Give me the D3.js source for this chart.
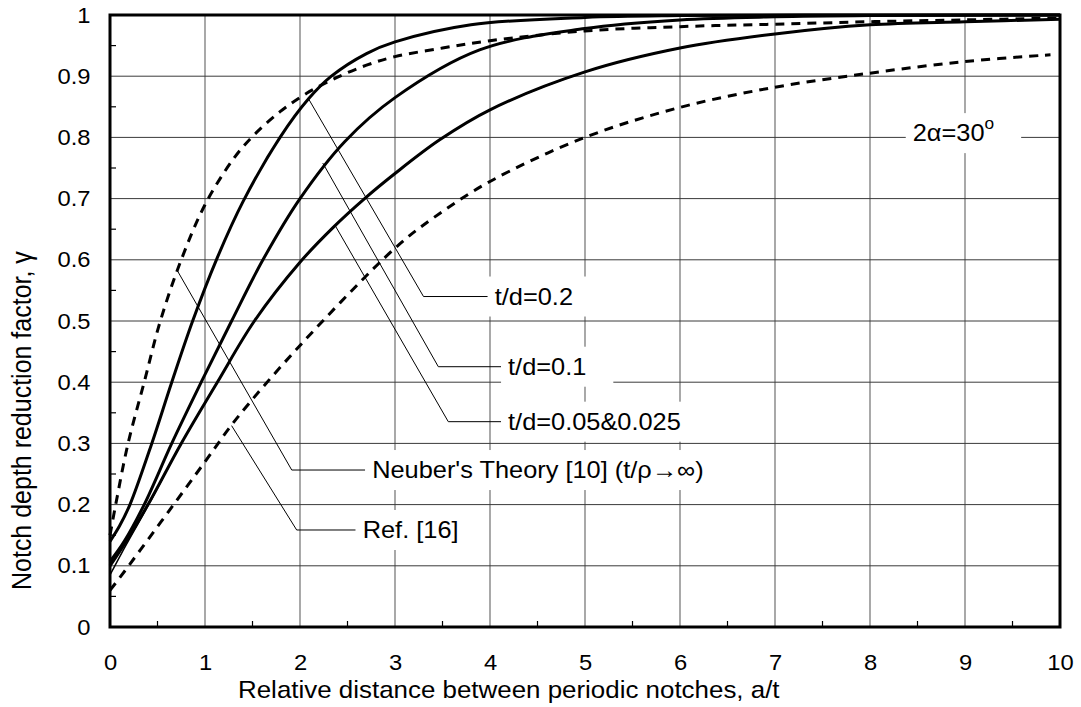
<!DOCTYPE html>
<html>
<head>
<meta charset="utf-8">
<script src="https://cdnjs.cloudflare.com/ajax/libs/d3/7.8.5/d3.min.js"></script>
<style>
  body { margin: 0; background: #ffffff; }
  svg { display: block; font-family: "Liberation Sans", Arial, sans-serif; }
</style>
</head>
<body>
<div id="chart"></div>
<script>
// values (x = a/t, y = gamma)
var td02X = [0, 0.1, 0.21, 0.44, 0.65, 0.87, 1.12, 1.4, 1.79, 2.09, 2.33, 2.7, 3.0, 3.8, 5.0, 6.0, 8.0, 10.0];
var td02Y = [0.14, 0.165, 0.2, 0.3, 0.4, 0.5, 0.6, 0.695, 0.8, 0.863, 0.9, 0.937, 0.956, 0.984, 0.996, 0.999, 1.0, 1.0];

var td01X = [0, 0.15, 0.36, 0.65, 0.96, 1.28, 1.61, 2.0, 2.47, 3.0, 3.89, 5.0, 6.0, 7.0, 8.0, 10.0];
var td01Y = [0.107, 0.14, 0.2, 0.3, 0.4, 0.5, 0.6, 0.7, 0.793, 0.865, 0.943, 0.978, 0.992, 0.997, 0.999, 1.0];

var td005X = [0, 0.15, 0.4, 0.75, 1.13, 1.52, 2.0, 2.35, 2.68, 3.0, 3.47, 4.0, 5.0, 6.0, 7.0, 8.0, 9.0, 10.0];
var td005Y = [0.1, 0.135, 0.2, 0.3, 0.4, 0.5, 0.596, 0.653, 0.7, 0.741, 0.796, 0.845, 0.907, 0.946, 0.969, 0.984, 0.989, 0.993];

var td0025X = [0, 0.12, 0.4, 0.75, 1.13, 1.52, 2.0, 2.35, 2.68, 3.0, 3.47, 4.0, 5.0, 6.0, 7.0, 8.0, 9.0, 10.0];
var td0025Y = [0.085, 0.12, 0.198, 0.3, 0.4, 0.5, 0.596, 0.653, 0.7, 0.741, 0.796, 0.845, 0.907, 0.946, 0.969, 0.984, 0.989, 0.993];

var neuberX = [0, 0.06, 0.19, 0.36, 0.53, 0.75, 1.0, 1.3, 1.51, 1.79, 2.07, 2.39, 2.7, 3.0, 3.5, 4.0, 5.0, 6.0, 7.0, 8.0, 9.0, 10.0];
var neuberY = [0.15, 0.2, 0.3, 0.4, 0.5, 0.6, 0.69, 0.765, 0.803, 0.842, 0.872, 0.898, 0.918, 0.932, 0.946, 0.958, 0.974, 0.981, 0.985, 0.989, 0.992, 0.995];

var ref16X = [0, 0.1, 0.32, 0.67, 1.0, 1.33, 2.0, 3.0, 3.4, 4.0, 5.0, 6.0, 7.0, 8.0, 9.0, 9.9];
var ref16Y = [0.06, 0.08, 0.126, 0.2, 0.27, 0.34, 0.46, 0.619, 0.668, 0.728, 0.8, 0.849, 0.882, 0.905, 0.924, 0.935];

// tick labels
var xTicks = [0, 1, 2, 3, 4, 5, 6, 7, 8, 9, 10];
var xTickLabels = ["0", "1", "2", "3", "4", "5", "6", "7", "8", "9", "10"];
var yTicks = [0, 0.1, 0.2, 0.3, 0.4, 0.5, 0.6, 0.7, 0.8, 0.9, 1];
var yTickLabels = ["0", "0.1", "0.2", "0.3", "0.4", "0.5", "0.6", "0.7", "0.8", "0.9", "1"];

// annotation call-outs: point on the curve, elbow, text start (data units)
var calloutText = ["t/d=0.2", "t/d=0.1", "t/d=0.05&0.025", "Neuber's Theory [10] (t/\u03c1\u2192\u221e)", "Ref. [16]"];
var calloutAnchor = [[2.09, 0.863], [2.24, 0.758], [2.37, 0.656], [0.71, 0.582], [1.28, 0.329]];
var calloutElbow = [[3.30, 0.54], [3.456, 0.4253], [3.561, 0.3355], [1.913, 0.2565], [1.965, 0.1585]];
var calloutTextX = [4.05, 4.19, 4.19, 2.76, 2.66];

// ### set up the drawing area
var W = 1081, H = 707;
var margin = {top: 15, right: 21, bottom: 80, left: 110};
var width = W - margin.left - margin.right;
var height = H - margin.top - margin.bottom;
var stretch = "scale(1.08,1)";

var svg = d3.select("#chart").append("svg")
  .attr("width", W)
  .attr("height", H);

var g = svg.append("g").attr("transform", "translate(" + margin.left + "," + margin.top + ")");

var x = d3.scaleLinear().domain([0, 10]).range([0, width]);
var y = d3.scaleLinear().domain([0, 1]).range([height, 0]);

// ### grid lines
g.append("g").attr("class", "grid_v").selectAll("line")
  .data(xTicks.slice(1, -1)).enter().append("line")
  .attr("x1", function(d){ return x(d); })
  .attr("x2", function(d){ return x(d); })
  .attr("y1", 0).attr("y2", height)
  .attr("stroke", "#7a7a7a").attr("stroke-width", 1.3);

g.append("g").attr("class", "grid_h").selectAll("line")
  .data(yTicks.slice(1, -1)).enter().append("line")
  .attr("x1", 0).attr("x2", width)
  .attr("y1", function(d){ return y(d); })
  .attr("y2", function(d){ return y(d); })
  .attr("stroke", "#3a3a3a").attr("stroke-width", 1);

// ### curves
var line = d3.line()
  .x(function(d){ return x(d[0]); })
  .y(function(d){ return y(d[1]); })
  .curve(d3.curveCatmullRom.alpha(0.5));

function series(xs, ys){ return xs.map(function(v, i){ return [v, ys[i]]; }); }

var curves = [
  {pts: series(ref16X, ref16Y), w: 3, dash: "9,7"},
  {pts: series(neuberX, neuberY), w: 3, dash: "9,7"},
  {pts: series(td0025X, td0025Y), w: 1.5, dash: null},
  {pts: series(td005X, td005Y), w: 3, dash: null},
  {pts: series(td01X, td01Y), w: 3, dash: null},
  {pts: series(td02X, td02Y), w: 3, dash: null}
];

g.append("g").attr("class", "curves").selectAll("path")
  .data(curves).enter().append("path")
  .attr("d", function(d){ return line(d.pts); })
  .attr("fill", "none")
  .attr("stroke", "#000")
  .attr("stroke-width", function(d){ return d.w; })
  .attr("stroke-dasharray", function(d){ return d.dash; });

// ### call-outs with white boxes
var notes = g.append("g").attr("class", "notes");

function addBoxedText(px, py, build){
  var t = notes.append("text")
    .attr("transform", "translate(" + px + "," + py + ") " + stretch)
    .attr("font-size", 23.5)
    .attr("dy", "0.35em");
  build(t);
  var bb = t.node().getBBox();
  notes.insert("rect", function(){ return t.node(); })
    .attr("x", px - 7)
    .attr("y", py - 20)
    .attr("width", bb.width * 1.08 + 34)
    .attr("height", 40)
    .attr("fill", "#fff");
}

calloutText.forEach(function(txt, i){
  var a = calloutAnchor[i], e = calloutElbow[i];
  notes.append("polyline")
    .attr("points", [[x(a[0]), y(a[1])], [x(e[0]), y(e[1])], [x(calloutTextX[i]) - 7, y(e[1])]].join(" "))
    .attr("fill", "none").attr("stroke", "#000").attr("stroke-width", 1);
  addBoxedText(x(calloutTextX[i]), y(e[1]), function(t){ t.text(txt); });
});

// angle label with superscript degree mark
addBoxedText(x(8.45), y(0.807), function(t){
  t.append("tspan").text("2\u03b1=30");
  t.append("tspan").attr("font-size", 16).attr("dy", "-0.75em").text("o");
});

// ### frame and minor ticks
g.append("rect")
  .attr("x", 0).attr("y", 0).attr("width", width).attr("height", height)
  .attr("fill", "none").attr("stroke", "#000").attr("stroke-width", 3);

g.append("g").selectAll("line")
  .data(d3.range(0.5, 10, 1)).enter().append("line")
  .attr("x1", function(d){ return x(d); }).attr("x2", function(d){ return x(d); })
  .attr("y1", height).attr("y2", height - 6)
  .attr("stroke", "#000").attr("stroke-width", 1.2);

g.append("g").selectAll("line")
  .data(d3.range(0.05, 1, 0.1)).enter().append("line")
  .attr("y1", function(d){ return y(d); }).attr("y2", function(d){ return y(d); })
  .attr("x1", 0).attr("x2", 6)
  .attr("stroke", "#000").attr("stroke-width", 1.2);

// ### axes (labels only)
var xAxis = g.append("g").attr("transform", "translate(0," + height + ")")
  .call(d3.axisBottom(x).tickValues(xTicks).tickSize(0).tickPadding(27)
    .tickFormat(function(d, i){ return xTickLabels[i]; }));
var yAxis = g.append("g")
  .call(d3.axisLeft(y).tickValues(yTicks).tickSize(0).tickPadding(18)
    .tickFormat(function(d, i){ return yTickLabels[i]; }));

[xAxis, yAxis].forEach(function(ax){
  ax.select(".domain").remove();
  ax.selectAll("text")
    .attr("font-family", "Liberation Sans, Arial, sans-serif")
    .attr("font-size", 22)
    .attr("fill", "#000")
    .attr("transform", stretch);
});

// ### axis titles
svg.append("text")
  .attr("transform", "translate(238,698) " + stretch)
  .attr("font-size", 24)
  .text("Relative distance between periodic notches, a/t");

svg.append("text")
  .attr("transform", "translate(22,590) " + stretch + " rotate(-90)")
  .attr("dy", "0.35em")
  .attr("font-size", 25)
  .text("Notch depth reduction factor, \u03b3");
</script>
</body>
</html>
